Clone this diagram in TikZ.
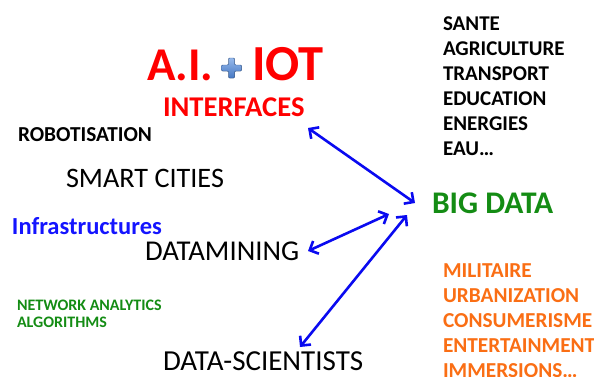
\documentclass[tikz,border=0pt]{standalone}
\usepackage{fontspec}
\setmainfont{Carlito}
\usetikzlibrary{arrows.meta}
\definecolor{tred}{RGB}{255,0,0}
\definecolor{tblue}{RGB}{20,20,255}
\definecolor{tgreen}{RGB}{20,140,20}
\definecolor{torange}{RGB}{250,110,20}
\definecolor{plusl}{RGB}{150,185,235}
\definecolor{plusd}{RGB}{70,120,195}
\definecolor{abl}{RGB}{10,10,240}
\tikzset{
  lbl/.style={anchor=base west, inner sep=0pt, outer sep=0pt},
  tipv/.tip={Straight Barb[length=7pt,width=14pt,line width=2.6pt,line join=miter]},
  link/.style={draw=abl, line width=2.6pt, tipv-tipv},
  listtxt/.style={lbl, align=left, font=\fontsize{21}{25}\selectfont\bfseries}
}
\begin{document}
\begin{tikzpicture}[x=1pt,y=1pt]
\useasboundingbox (0,0) rectangle (594,376);
% title
\node[lbl, text=tred, font=\fontsize{47}{50}\selectfont\bfseries] (ai) at (147,296) {A.I.};
\node[lbl, text=tred, font=\fontsize{50.5}{52}\selectfont\bfseries] (iot) at (252,296) {IOT};
\node[inner sep=0pt] (plus) at (231.5,308) {};
\fill[top color=plusl, bottom color=plusd, draw=plusd!80!black, line width=0.4pt, rounded corners=1pt]
  (228.5,318) -- (234.5,318) -- (234.5,311) -- (241.5,311) -- (241.5,305) -- (234.5,305) -- (234.5,298)
  -- (228.5,298) -- (228.5,305) -- (221.5,305) -- (221.5,311) -- (228.5,311) -- cycle;
\node[lbl, text=tred, font=\fontsize{28.6}{30}\selectfont\bfseries] (interfaces) at (163,260) {INTERFACES};
% left texts
\node[lbl, font=\fontsize{21.3}{24}\selectfont\bfseries] (robot) at (18,235) {ROBOTISATION};
\node[lbl, font=\fontsize{28.2}{32}\selectfont] (smart) at (66,189) {SMART CITIES};
\node[lbl, text=tblue, font=\fontsize{24.5}{26}\selectfont\bfseries] (infra) at (12,142) {Infrastructures};
\node[lbl, font=\fontsize{28.7}{30}\selectfont] (datamining) at (145,116) {DATAMINING};
\node[lbl, text=tgreen, align=left, font=\fontsize{16}{17}\selectfont\bfseries] (network) at (17,49) {NETWORK ANALYTICS\\ALGORITHMS};
\node[lbl, font=\fontsize{29}{30}\selectfont] (scient) at (163,6) {DATA-SCIENTISTS};
% right texts
\node[listtxt] (sectors) at (443,221) {SANTE\\AGRICULTURE\\TRANSPORT\\EDUCATION\\ENERGIES\\EAU\dots};
\node[lbl, text=tgreen, font=\fontsize{31.5}{33}\selectfont\bfseries] (bigdata) at (432,163) {BIG DATA};
\node[listtxt, text=torange, font=\fontsize{21.3}{25}\selectfont\bfseries] (uses) at (443,-1) {MILITAIRE\\URBANIZATION\\CONSUMERISME\\ENTERTAINMENT\\IMMERSIONS\dots};
% connector end points
\coordinate (c1a) at (308,248);
\coordinate (c1b) at (415,173);
\coordinate (c2a) at (308,125);
\coordinate (c2b) at (389,162);
\coordinate (c3a) at (300,29);
\coordinate (c3b) at (407,161);
\draw[link] (c1a) -- (c1b);
\draw[link] (c2a) -- (c2b);
\draw[link] (c3a) -- (c3b);
\end{tikzpicture}
\end{document}
